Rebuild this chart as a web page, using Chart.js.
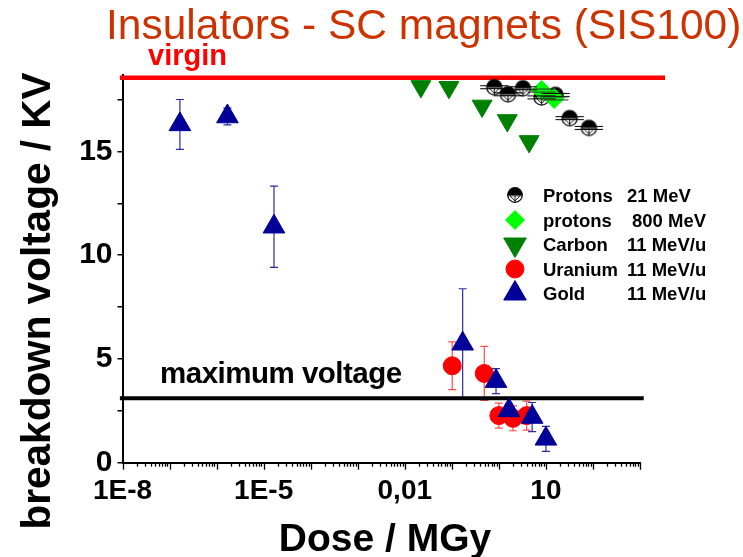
<!DOCTYPE html>
<html><head><meta charset="utf-8">
<script src="https://cdn.jsdelivr.net/npm/chart.js@4/dist/chart.umd.min.js"></script>
<style>html,body{margin:0;padding:0;background:#fff}#wrap{width:743px;height:557px}</style>
</head><body><div id="wrap"><canvas id="c" width="743" height="557"></canvas></div>
<script>
// ---- data ----
const protons21X = [0.8, 1.56, 3.25, 8.1, 16, 32, 82];
const protons21Y = [18.09, 17.75, 18.04, 17.6, 17.72, 16.6, 16.13];
const protons800X = [8.1, 15];
const protons800Y = [17.93, 17.55];
const carbonX = [0.022, 0.087, 0.44, 1.51, 4.4];
const carbonY = [18.13, 18.09, 17.19, 16.49, 15.48];
const uraniumX = [0.102, 0.49, 1.0, 2.0, 3.9];
const uraniumY = [4.67, 4.3, 2.27, 2.14, 2.27];
const uraniumErr = [1.15, 1.3, 0.6, 0.6, 0.7];
const goldX = [1.66e-7, 1.7e-6, 1.66e-5, 0.17, 0.87, 1.64, 5.1, 10];
const goldY = [16.3, 16.68, 11.37, 5.73, 3.93, 2.52, 2.2, 1.15];
const goldErr = [1.2, 0.4, 1.96, 2.65, 0.6, 0.3, 0.7, 0.6];
const protonXErrFactor = 2;
const virginLevel = 18.55;
const virginSpan = [8.8e-9, 3400];
const maxVoltageLevel = 3.1;
const maxVoltageSpan = [8.8e-9, 1.2e3];
const xTickLabels = { '-8': '1E-8', '-5': '1E-5', '-2': '0,01', '1': '10' };
const yTickValues = [0, 2.5, 5, 7.5, 10, 12.5, 15, 17.5];
const seriesNames = ['Protons', 'protons', 'Carbon', 'Uranium', 'Gold'];
const seriesEnergies = ['21 MeV', '800 MeV', '11 MeV/u', '11 MeV/u', '11 MeV/u'];

const FONT = "'Liberation Sans', Arial, Helvetica, sans-serif";
const pts = (xs, ys) => xs.map((x, i) => ({ x: x, y: ys[i] }));

function protonMarker(r) {
  const s = Math.ceil(2 * r + 3);
  const c = document.createElement('canvas'); c.width = s; c.height = s;
  const g = c.getContext('2d'); const cx = s / 2, cy = s / 2;
  g.fillStyle = '#fff'; g.beginPath(); g.arc(cx, cy, r, 0, 2 * Math.PI); g.fill();
  g.fillStyle = '#000'; g.beginPath(); g.arc(cx, cy, r, Math.PI, 2 * Math.PI); g.closePath(); g.fill();
  g.strokeStyle = '#000'; g.lineWidth = 1.2;
  g.beginPath(); g.arc(cx, cy, r, 0, 2 * Math.PI); g.stroke();
  g.lineWidth = 0.9;
  g.beginPath(); g.moveTo(cx - r, cy + 0.8); g.lineTo(cx + r, cy + 0.8); g.stroke();
  g.beginPath(); g.moveTo(cx - r * 0.7, cy + 0.8); g.lineTo(cx, cy + r * 0.8); g.lineTo(cx + r * 0.7, cy + 0.8); g.stroke();
  g.beginPath(); g.moveTo(cx, cy + 0.8); g.lineTo(cx, cy + r); g.stroke();
  return c;
}
const protonImg = protonMarker(7.6);
const protonImgLegend = protonMarker(7.3);

function drawMarker(ctx, style, x, y, r, rot, fill, stroke) {
  ctx.save();
  if (style instanceof HTMLCanvasElement) {
    ctx.drawImage(style, x - style.width / 2, y - style.height / 2);
    ctx.restore(); return;
  }
  ctx.fillStyle = fill; ctx.strokeStyle = stroke; ctx.lineWidth = 1;
  if (Chart.helpers && Chart.helpers.drawPoint) {
    Chart.helpers.drawPoint(ctx, { pointStyle: style, radius: r, rotation: rot, borderWidth: 1 }, x, y);
  }
  ctx.restore();
}

const errorBars = {
  id: 'errorBars',
  beforeDatasetsDraw(chart) {
    const { ctx, scales: { x, y } } = chart;
    const sets = [[goldX, goldY, goldErr, '#2a2aa8'], [uraniumX, uraniumY, uraniumErr, '#ff4d4d']];
    ctx.save();
    ctx.lineWidth = 1.2;
    sets.forEach(([xs, ys, es, col]) => {
      ctx.strokeStyle = col;
      xs.forEach((xv, i) => {
        const px = x.getPixelForValue(xv);
        const pt = y.getPixelForValue(ys[i] + es[i]);
        const pb = y.getPixelForValue(ys[i] - es[i]);
        ctx.beginPath();
        ctx.moveTo(px, pt); ctx.lineTo(px, pb);
        ctx.moveTo(px - 4, pt); ctx.lineTo(px + 4, pt);
        ctx.moveTo(px - 4, pb); ctx.lineTo(px + 4, pb);
        ctx.stroke();
      });
    });
    ctx.restore();
  },
  afterDatasetsDraw(chart) {
    const { ctx, scales: { x, y } } = chart;
    ctx.save();
    ctx.strokeStyle = '#000'; ctx.lineWidth = 1;
    const hbar = (xs, ys) => xs.forEach((xv, i) => {
      const pl = x.getPixelForValue(xv / protonXErrFactor);
      const pr = x.getPixelForValue(xv * protonXErrFactor);
      const py = y.getPixelForValue(ys[i]);
      ctx.beginPath();
      ctx.moveTo(pl, py - 1.5); ctx.lineTo(pr, py - 1.5);
      ctx.moveTo(pl, py + 1.5); ctx.lineTo(pr, py + 1.5);
      ctx.stroke();
    });
    hbar(protons21X, protons21Y);
    ctx.strokeStyle = '#333';
    hbar(protons800X, protons800Y);
    ctx.restore();
  }
};

const xTickMarks = {
  id: 'xTickMarks',
  afterDraw(chart) {
    const { ctx, scales: { x } } = chart;
    ctx.save(); ctx.strokeStyle = '#000'; ctx.lineWidth = 1.3;
    x.ticks.forEach(t => {
      const l = Math.log10(t.value);
      const major = Math.abs(l - Math.round(l)) < 1e-9;
      const px = Math.round(x.getPixelForValue(t.value)) + 0.5;
      ctx.beginPath(); ctx.moveTo(px, x.top); ctx.lineTo(px, x.top + (major ? 7 : 4)); ctx.stroke();
    });
    ctx.restore();
  }
};

const texts = {
  id: 'texts',
  afterDraw(chart) {
    const ctx = chart.ctx;
    ctx.save();
    ctx.textBaseline = 'alphabetic';
    // title
    ctx.fillStyle = '#cc3300'; ctx.textAlign = 'left';
    ctx.font = `42.5px ${FONT}`;
    ctx.fillText('Insulators - SC magnets (SIS100)', 106, 39);
    // virgin
    ctx.fillStyle = '#ff0000'; ctx.font = `bold 29px ${FONT}`;
    ctx.fillText('virgin', 148, 65);
    // maximum voltage
    ctx.fillStyle = '#000'; ctx.font = `bold 29.5px ${FONT}`;
    if ('letterSpacing' in ctx) ctx.letterSpacing = '-0.5px';
    ctx.fillText('maximum voltage', 160, 383);
    if ('letterSpacing' in ctx) ctx.letterSpacing = '0px';
    // x title
    ctx.textAlign = 'center'; ctx.font = `bold 39px ${FONT}`;
    ctx.fillText('Dose / MGy', 385, 551);
    // y title
    ctx.save(); ctx.translate(50, 301); ctx.rotate(-Math.PI / 2);
    ctx.font = `bold 40.5px ${FONT}`;
    ctx.fillText('breakdown voltage / KV', 0, 0);
    ctx.restore();
    // legend
    const rows = [195, 220, 244.5, 269, 293.5];
    const mx = 515;
    drawMarker(ctx, protonImgLegend, mx, rows[0]);
    drawMarker(ctx, 'rectRot', mx, rows[1], 9.5, 0, '#00ff00', '#00ff00');
    drawMarker(ctx, 'triangle', mx, rows[2], 13, 180, '#008000', '#008000');
    drawMarker(ctx, 'circle', mx, rows[3], 9, 0, '#ff0000', '#ff0000');
    drawMarker(ctx, 'triangle', mx, rows[4], 13, 0, '#000099', '#000099');
    ctx.fillStyle = '#000'; ctx.textAlign = 'left'; ctx.font = `bold 18.5px ${FONT}`;
    seriesNames.forEach((n, i) => {
      ctx.fillText(n, 543, rows[i] + 6.7);
      ctx.fillText(seriesEnergies[i], i === 1 ? 632 : 627, rows[i] + 6.7);
    });
    ctx.restore();
  }
};

new Chart(document.getElementById('c'), {
  type: 'scatter',
  data: {
    datasets: [
      { label: 'Gold 11 MeV/u', data: pts(goldX, goldY), order: 0, pointStyle: 'triangle', pointRadius: 12.5,
        backgroundColor: '#000099', borderColor: '#000099', borderWidth: 1 },
      { label: 'Uranium 11 MeV/u', data: pts(uraniumX, uraniumY), order: 1, pointStyle: 'circle', pointRadius: 9,
        backgroundColor: '#ff0000', borderColor: '#ff0000', borderWidth: 1 },
      { label: 'Carbon 11 MeV/u', data: pts(carbonX, carbonY), order: 2, pointStyle: 'triangle', pointRotation: 180, pointRadius: 11.5,
        backgroundColor: '#008000', borderColor: '#008000', borderWidth: 1 },
      { label: 'protons 800 MeV', data: pts(protons800X, protons800Y), order: 3, pointStyle: 'rectRot', pointRadius: 10,
        backgroundColor: '#00ff00', borderColor: '#00ff00', borderWidth: 1 },
      { label: 'Protons 21 MeV', data: pts(protons21X, protons21Y), order: 4, pointStyle: protonImg, pointRadius: 7.5 },
      { type: 'line', label: 'virgin', data: [{ x: virginSpan[0], y: virginLevel }, { x: virginSpan[1], y: virginLevel }],
        order: 5, borderColor: '#ff0000', borderWidth: 4.5, pointRadius: 0, clip: false, showLine: true },
      { type: 'line', label: 'maximum voltage', data: [{ x: maxVoltageSpan[0], y: maxVoltageLevel }, { x: maxVoltageSpan[1], y: maxVoltageLevel }],
        order: 6, borderColor: '#000', borderWidth: 4, pointRadius: 0, clip: false, showLine: true }
    ]
  },
  options: {
    responsive: false, animation: false, devicePixelRatio: 1,
    layout: { padding: { top: 75, right: 103, left: 0, bottom: 0 } },
    plugins: { legend: { display: false }, tooltip: { enabled: false }, title: { display: false } },
    scales: {
      x: {
        type: 'logarithmic', min: 1e-8, max: 1e3,
        afterFit(s) { s.height = 94.3; },
        afterBuildTicks(s) {
          const t = [];
          for (let e = -8; e <= 3; e++) {
            for (let m = 1; m <= 9; m++) {
              if (e === 3 && m > 1) break;
              t.push({ value: m * Math.pow(10, e) });
            }
          }
          s.ticks = t;
        },
        grid: { display: false, drawTicks: false },
        border: { display: true, color: '#000', width: 2 },
        ticks: {
          autoSkip: false, maxRotation: 0, minRotation: 0, padding: 12, color: '#000',
          font: { family: FONT, size: 28, weight: 'bold', lineHeight: 1.2 },
          callback(v) {
            const l = Math.log10(v), e = Math.round(l);
            if (Math.abs(l - e) < 1e-9 && xTickLabels[String(e)] !== undefined) return xTickLabels[String(e)];
            return '';
          }
        }
      },
      y: {
        min: 0, max: 18.68,
        afterFit(s) { s.width = 122.5; },
        afterBuildTicks(s) { s.ticks = yTickValues.map(v => ({ value: v })); },
        grid: { display: true, drawOnChartArea: false, drawTicks: true, tickLength: 5, color: '#000', lineWidth: 1.5 },
        border: { display: true, color: '#000', width: 2 },
        ticks: {
          padding: 5, color: '#000',
          font: { family: FONT, size: 30, weight: 'bold', lineHeight: 1.2 },
          callback(v) { return v % 5 === 0 ? String(v) : ''; }
        }
      }
    }
  },
  plugins: [errorBars, xTickMarks, texts]
});
</script>
</body></html>
